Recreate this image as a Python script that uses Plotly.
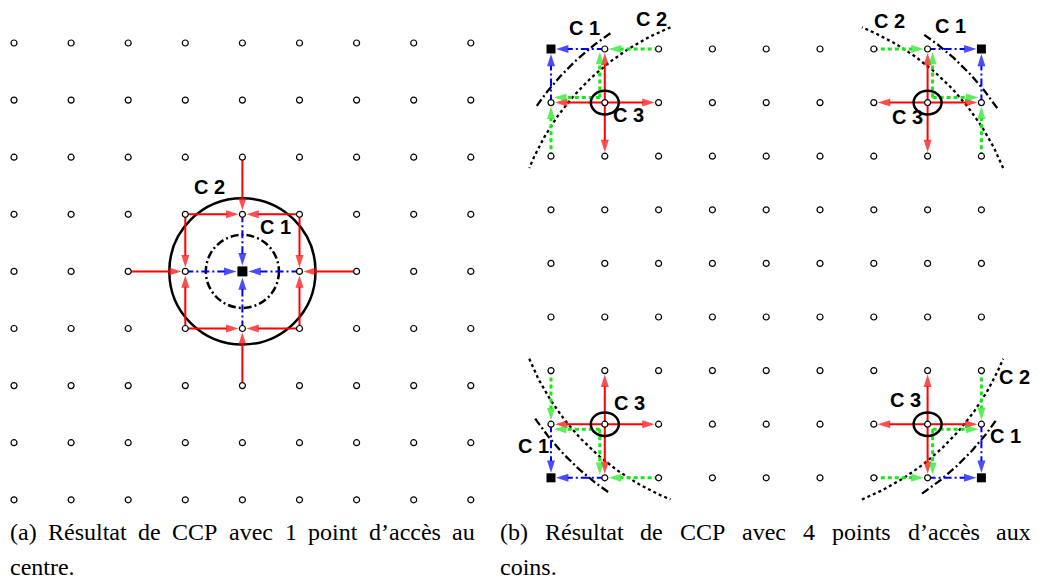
import numpy as np
import plotly.graph_objects as go

# ---------------- data ----------------
N_COLS = 9
N_ROWS = 9

# Panel (a): one access point in the centre (col, row), row 0 = bottom
a_access = [(4, 4)]
a_c1_arrows = [((3, 4), (4, 4)), ((5, 4), (4, 4)), ((4, 5), (4, 4)), ((4, 3), (4, 4))]
a_c2_arrows = [((2, 4), (3, 4)), ((6, 4), (5, 4)), ((4, 6), (4, 5)), ((4, 2), (4, 3)),
               ((3, 5), (4, 5)), ((5, 5), (4, 5)), ((3, 3), (4, 3)), ((5, 3), (4, 3)),
               ((3, 5), (3, 4)), ((3, 3), (3, 4)), ((5, 5), (5, 4)), ((5, 3), (5, 4))]
a_c1_radius = 0.64
a_c2_radius = 1.28
a_labels = [("C 2", 3.43, 5.47), ("C 1", 4.58, 4.77)]

# Panel (b): four access points in the corners
b_access = [(0, 8), (8, 8), (0, 0), (8, 0)]
b_c3_centres = [(1, 7), (7, 7), (1, 1), (7, 1)]
b_c1_arrows = [((1, 8), (0, 8)), ((0, 7), (0, 8)),
               ((7, 8), (8, 8)), ((8, 7), (8, 8)),
               ((0, 1), (0, 0)), ((1, 0), (0, 0)),
               ((8, 1), (8, 0)), ((7, 0), (8, 0))]
b_c3_arrows = [((1, 7), (1, 8)), ((1, 7), (2, 7)), ((1, 7), (0, 7)), ((1, 7), (1, 6)),
               ((7, 7), (7, 8)), ((7, 7), (8, 7)), ((7, 7), (6, 7)), ((7, 7), (7, 6)),
               ((1, 1), (1, 2)), ((1, 1), (2, 1)), ((1, 1), (0, 1)), ((1, 1), (1, 0)),
               ((7, 1), (7, 2)), ((7, 1), (6, 1)), ((7, 1), (8, 1)), ((7, 1), (7, 0))]
b_c2_arrows = [((2, 8), (1, 8)), ((1, 7), (1, 8)), ((1, 7), (0, 7)), ((0, 6), (0, 7)),
               ((6, 8), (7, 8)), ((7, 7), (7, 8)), ((7, 7), (8, 7)), ((8, 6), (8, 7)),
               ((0, 2), (0, 1)), ((1, 1), (0, 1)), ((1, 1), (1, 0)), ((2, 0), (1, 0)),
               ((8, 2), (8, 1)), ((7, 1), (8, 1)), ((7, 1), (7, 0)), ((6, 0), (7, 0))]
b_arc_centre = (4, 4)
b_c1_radius = 5.18
b_c2_radius = 4.75
b_arc_mid_angles = [135, 45, 225, 315]
b_c1_half_span = 11
b_c2_half_span = 23
b_c3_rx, b_c3_ry = 0.26, 0.22
b_labels = [("C 1", 0.63, 8.39), ("C 2", 1.87, 8.56), ("C 3", 1.44, 6.77),
            ("C 2", 6.30, 8.52), ("C 1", 7.42, 8.42), ("C 3", 6.62, 6.74),
            ("C 2", -0.56, 2.00), ("C 3", 1.45, 1.40), ("C 1", -0.33, 0.60),
            ("C 3", 6.59, 1.46), ("C 2", 8.61, 1.89), ("C 1", 8.44, 0.78)]

caption_a = [["(a)", "Résultat", "de", "CCP", "avec", "1", "point", "d’accès", "au"], ["centre."]]
caption_b = [["(b)", "Résultat", "de", "CCP", "avec", "4", "points", "d’accès", "aux"], ["coins."]]

# ---------------- layout constants (pixels of the target picture) ----------------
PAGE_OFFSET = 8            # browser body margin in front of the figure
W_REF, H_REF = 1042, 581
W, H = W_REF - PAGE_OFFSET, H_REF - PAGE_OFFSET


def fx(px):
    return px - PAGE_OFFSET


A_X0, A_Y0, A_STEP = fx(14.0), fx(499.8), 57.1
B_X0, B_Y0, B_SX, B_SY = fx(551.0), fx(477.8), 53.8, 53.6
SPLIT = fx(521.0)

RED = "#ff0000"
BLUE = "#0000ff"
GREEN = "#19e619"
BLACK = "#000000"
DASHDOT = "8px,3px,2px,3px"
DOTS = "3px,3px"
GREEN_DOTS = "4px,3px"
ARROW_SIZE = 13

fig = go.Figure()


def arrow(p0, p1, color, dash, width, xa, ya, standoff, size=ARROW_SIZE):
    fig.add_trace(go.Scatter(
        x=[p0[0], p1[0]], y=[p0[1], p1[1]], xaxis=xa, yaxis=ya,
        mode="lines+markers",
        line=dict(color=color, width=width, dash=dash),
        marker=dict(symbol=["circle", "arrow"], size=[0, size], angleref="previous",
                    standoff=[0, standoff], color=color, line=dict(width=0)),
        hoverinfo="skip", showlegend=False))


# ---- panel (a) ----
fig.add_shape(type="circle", xref="x", yref="y", layer="below",
              x0=a_access[0][0] - a_c2_radius, x1=a_access[0][0] + a_c2_radius,
              y0=a_access[0][1] - a_c2_radius, y1=a_access[0][1] + a_c2_radius,
              line=dict(color=BLACK, width=2.5))
fig.add_shape(type="circle", xref="x", yref="y", layer="below",
              x0=a_access[0][0] - a_c1_radius, x1=a_access[0][0] + a_c1_radius,
              y0=a_access[0][1] - a_c1_radius, y1=a_access[0][1] + a_c1_radius,
              line=dict(color=BLACK, width=2.5, dash=DASHDOT))
for p0, p1 in a_c2_arrows:
    arrow(p0, p1, RED, "solid", 2, "x", "y", 4)
for p0, p1 in a_c1_arrows:
    arrow(p0, p1, BLUE, DASHDOT, 2, "x", "y", 6)

# ---- panel (b) ----
cx, cy = b_arc_centre
for mid in b_arc_mid_angles:
    for r, half, dash in [(b_c1_radius, b_c1_half_span, DASHDOT), (b_c2_radius, b_c2_half_span, DOTS)]:
        t = np.radians(np.linspace(mid - half, mid + half, 60))
        fig.add_trace(go.Scatter(x=cx + r * np.cos(t), y=cy + r * np.sin(t), xaxis="x2", yaxis="y2",
                                 mode="lines", line=dict(color=BLACK, width=2.3, dash=dash),
                                 hoverinfo="skip", showlegend=False))
for (ex, ey) in b_c3_centres:
    fig.add_shape(type="circle", xref="x2", yref="y2",
                  x0=ex - b_c3_rx, x1=ex + b_c3_rx, y0=ey - b_c3_ry, y1=ey + b_c3_ry,
                  line=dict(color=BLACK, width=2.5))
for p0, p1 in b_c3_arrows:
    arrow(p0, p1, RED, "solid", 2, "x2", "y2", 4)

DX = 5.0 / B_SX
DY = 5.0 / B_SY
for p0, p1 in b_c2_arrows:
    if p0 in b_c3_centres:
        k = b_c3_centres.index(p0)
        sx = np.sign(b_access[k][0] - p0[0]) * DX
        sy = np.sign(b_access[k][1] - p0[1]) * DY
        start = (p0[0] + sx, p0[1] + sy)
        if p0[0] == p1[0]:
            end = (p1[0] + sx, p1[1])
        else:
            end = (p1[0], p1[1] + sy)
        arrow(start, end, GREEN, GREEN_DOTS, 3, "x2", "y2", 3)
    else:
        arrow(p0, p1, GREEN, GREEN_DOTS, 3, "x2", "y2", 4)
for p0, p1 in b_c1_arrows:
    arrow(p0, p1, BLUE, DASHDOT, 2, "x2", "y2", 5)

# ---- grid nodes and access points ----
gx, gy = np.meshgrid(np.arange(N_COLS), np.arange(N_ROWS))
for xa, ya, acc, sq in [("x", "y", a_access, 10), ("x2", "y2", b_access, 9)]:
    fig.add_trace(go.Scatter(x=gx.ravel(), y=gy.ravel(), xaxis=xa, yaxis=ya, mode="markers",
                             marker=dict(symbol="circle", size=6, color="white",
                                         line=dict(color=BLACK, width=1.2)),
                             hoverinfo="skip", showlegend=False))
    fig.add_trace(go.Scatter(x=[p[0] for p in acc], y=[p[1] for p in acc], xaxis=xa, yaxis=ya,
                             mode="markers", marker=dict(symbol="square", size=sq, color=BLACK),
                             hoverinfo="skip", showlegend=False))

# ---- labels ----
LABEL_FONT = dict(family="Liberation Sans, Arial, sans-serif", size=20, color=BLACK, weight="bold")
for txt, x, y in a_labels:
    fig.add_annotation(x=x, y=y, xref="x", yref="y", text=txt, showarrow=False, font=LABEL_FONT)
for txt, x, y in b_labels:
    fig.add_annotation(x=x, y=y, xref="x2", yref="y2", text=txt, showarrow=False, font=LABEL_FONT)

# ---- captions (first line justified, like the LaTeX sub-captions) ----
CAP_SIZE = 24
CAP_FONT = dict(family="Liberation Serif, Times New Roman, serif", size=CAP_SIZE, color=BLACK)
# Times / Liberation Serif advance widths (1/1000 em) used for justification
SERIF_W = {"(": 333, ")": 333, "a": 444, "b": 500, "R": 667, "é": 444, "è": 444, "s": 389,
           "u": 500, "l": 278, "t": 278, "d": 500, "e": 444, "C": 667, "P": 556, "v": 500,
           "c": 444, "1": 500, "4": 500, "p": 500, "o": 500, "i": 278, "n": 500, "’": 333,
           "x": 500, ".": 250, "r": 333}


def word_width(w):
    return sum(SERIF_W.get(ch, 500) for ch in w) / 1000.0 * CAP_SIZE


cap_extent = [(10, 475), (500, 1031)]      # left / right edge of the justified first line
line_y = [532, 567]


def put_word(word, px, py):
    fig.add_annotation(x=(fx(px) - 2) / W, y=1 - fx(py) / H, xref="paper", yref="paper",
                       xanchor="left", yanchor="middle", text=word, showarrow=False,
                       font=CAP_FONT)


for cap, (x_left, x_right) in zip([caption_a, caption_b], cap_extent):
    words = cap[0]
    widths = [word_width(w) for w in words]
    gap = (x_right - x_left - sum(widths)) / (len(words) - 1)
    x = x_left
    for w, ww in zip(words, widths):
        put_word(w, x, line_y[0])
        x += ww + gap
    put_word(cap[1][0], x_left, line_y[1])

# ---- axes ----
ax_common = dict(showgrid=False, zeroline=False, showticklabels=False, showline=False,
                 ticks="", fixedrange=True)
fig.update_layout(
    width=W, height=H, margin=dict(l=0, r=0, t=0, b=0),
    paper_bgcolor="white", plot_bgcolor="white", showlegend=False,
    xaxis=dict(domain=[0, SPLIT / W], range=[(0 - A_X0) / A_STEP, (SPLIT - A_X0) / A_STEP], **ax_common),
    yaxis=dict(domain=[0, 1], range=[(A_Y0 - H) / A_STEP, A_Y0 / A_STEP], **ax_common),
    xaxis2=dict(domain=[SPLIT / W, 1], range=[(SPLIT - B_X0) / B_SX, (W - B_X0) / B_SX],
                anchor="y2", **ax_common),
    yaxis2=dict(domain=[0, 1], range=[(B_Y0 - H) / B_SY, B_Y0 / B_SY], anchor="x2", **ax_common),
)

fig.write_html("out.html")
